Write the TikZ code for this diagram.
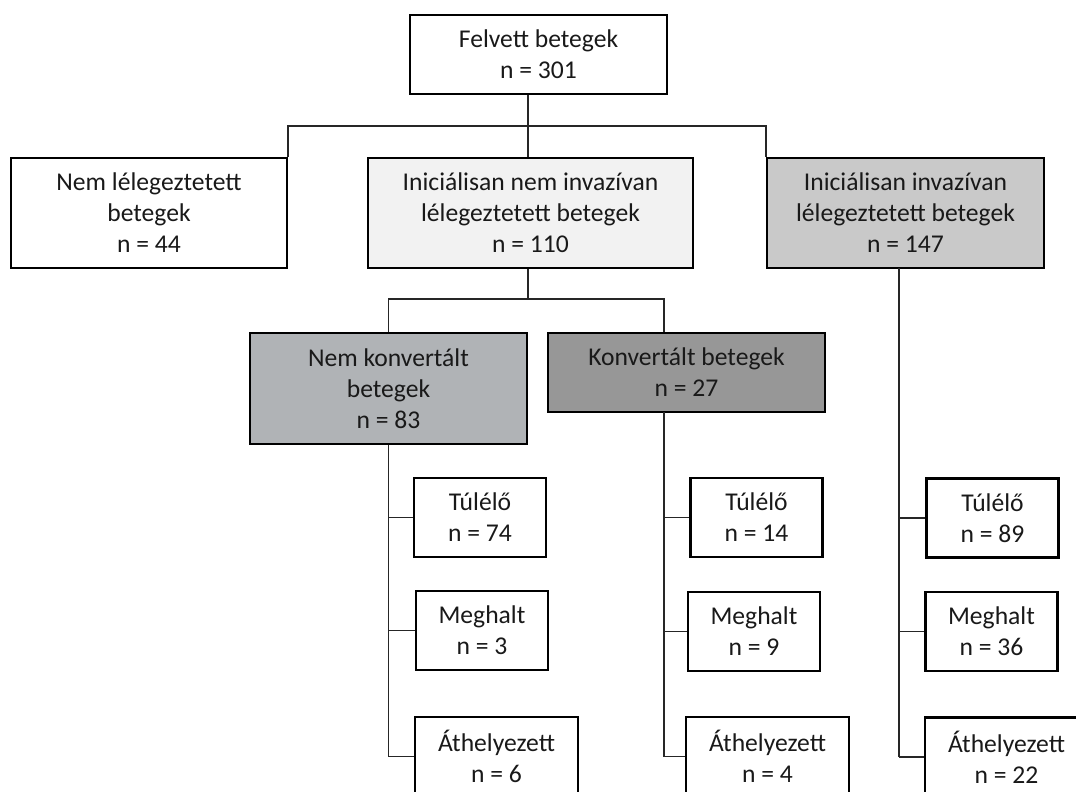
\documentclass[tikz,border=0pt]{standalone}
\usepackage{fontspec}
\setmainfont{Carlito}
\definecolor{lightbox}{HTML}{F2F2F2}
\definecolor{midbox}{HTML}{C9C9C9}
\definecolor{bluegray}{HTML}{B0B3B6}
\definecolor{darkbox}{HTML}{979797}
\tikzset{
  flow box/.style={
    draw,
    line width=2.2pt,
    align=center,
    inner sep=0pt,
    text=black!90,
    font=\fontsize{25.6}{31}\selectfont,
  },
  leaf box/.style={
    flow box,
    minimum width=132pt,
    minimum height=79pt,
  },
  wide leaf/.style={
    leaf box,
    minimum width=163pt,
  },
  link/.style={
    line width=1.3pt,
    draw=black!85,
  },
}

\begin{document}
\begin{tikzpicture}[x=1pt, y=-1pt]
      \useasboundingbox (0,0) rectangle (1076,792);
      \clip (0,0) rectangle (1076,792);

      \node[flow box, minimum width=257pt, minimum height=79pt] (felvett) at (538.5,54.5) {Felvett betegek\\n = 301};
      \node[flow box, minimum width=276pt, minimum height=110pt] (nemlel) at (149,213) {Nem lélegeztetett\\betegek\\n = 44};
      \node[flow box, fill=lightbox, minimum width=325pt, minimum height=110pt] (ninv) at (530.5,213) {Iniciálisan nem invazívan\\lélegeztetett betegek\\n = 110};
      \node[flow box, fill=midbox, minimum width=277pt, minimum height=110pt] (inv) at (905.5,213) {Iniciálisan invazívan\\lélegeztetett betegek\\n = 147};
      \node[flow box, fill=bluegray, minimum width=277pt, minimum height=111pt] (nkonv) at (388.5,388.5) {Nem konvertált\\betegek\\n = 83};
      \node[flow box, fill=darkbox, minimum width=277pt, minimum height=79pt] (konv) at (686.5,372.5) {Konvertált betegek\\n = 27};

      \node[leaf box] (t1) at (480,517.5) {Túlélő\\n = 74};
      \node[leaf box] (m1) at (482,630.5) {Meghalt\\n = 3};
      \node[wide leaf] (a1) at (496.5,756.5) {Áthelyezett\\n = 6};
      \node[leaf box] (t2) at (756.5,517.5) {Túlélő\\n = 14};
      \node[leaf box] (m2) at (754,631.5) {Meghalt\\n = 9};
      \node[wide leaf] (a2) at (767.5,756.5) {Áthelyezett\\n = 4};
      \node[leaf box] (t3) at (992.5,518) {Túlélő\\n = 89};
      \node[leaf box] (m3) at (991.5,631.5) {Meghalt\\n = 36};
      \node[wide leaf] (a3) at (1006.5,757) {Áthelyezett\\n = 22};

      \coordinate (top split) at (528,126);
      \coordinate (mid split) at (528,299);
      \coordinate (konv trunk) at (664,412);
      \coordinate (inv trunk) at (899,268);

      \draw[link] (top split |- felvett.south) -- (top split |- ninv.north);
      \draw[link] (nemlel.north east) -- (nemlel.north east |- top split) -- (inv.north west |- top split) -- (inv.north west);
      \draw[link] (mid split |- ninv.south) -- (mid split);
      \draw[link] (nkonv.north) -- (nkonv.north |- mid split) -- (konv trunk |- mid split) -- (konv trunk |- konv.north);

      \draw[link] (nkonv.south) -- (nkonv.south |- a1.west);
      \draw[link] (konv trunk) -- (konv trunk |- a2.west);
      \draw[link] (inv trunk) -- (inv trunk |- a3.west);
      \foreach \leaf in {t1,m1,a1}
        \draw[link] (nkonv.south |- \leaf.west) -- (\leaf.west);
      \foreach \leaf in {t2,m2,a2}
        \draw[link] (konv trunk |- \leaf.west) -- (\leaf.west);
      \foreach \leaf in {t3,m3,a3}
        \draw[link] (inv trunk |- \leaf.west) -- (\leaf.west);
    \end{tikzpicture}
\end{document}
